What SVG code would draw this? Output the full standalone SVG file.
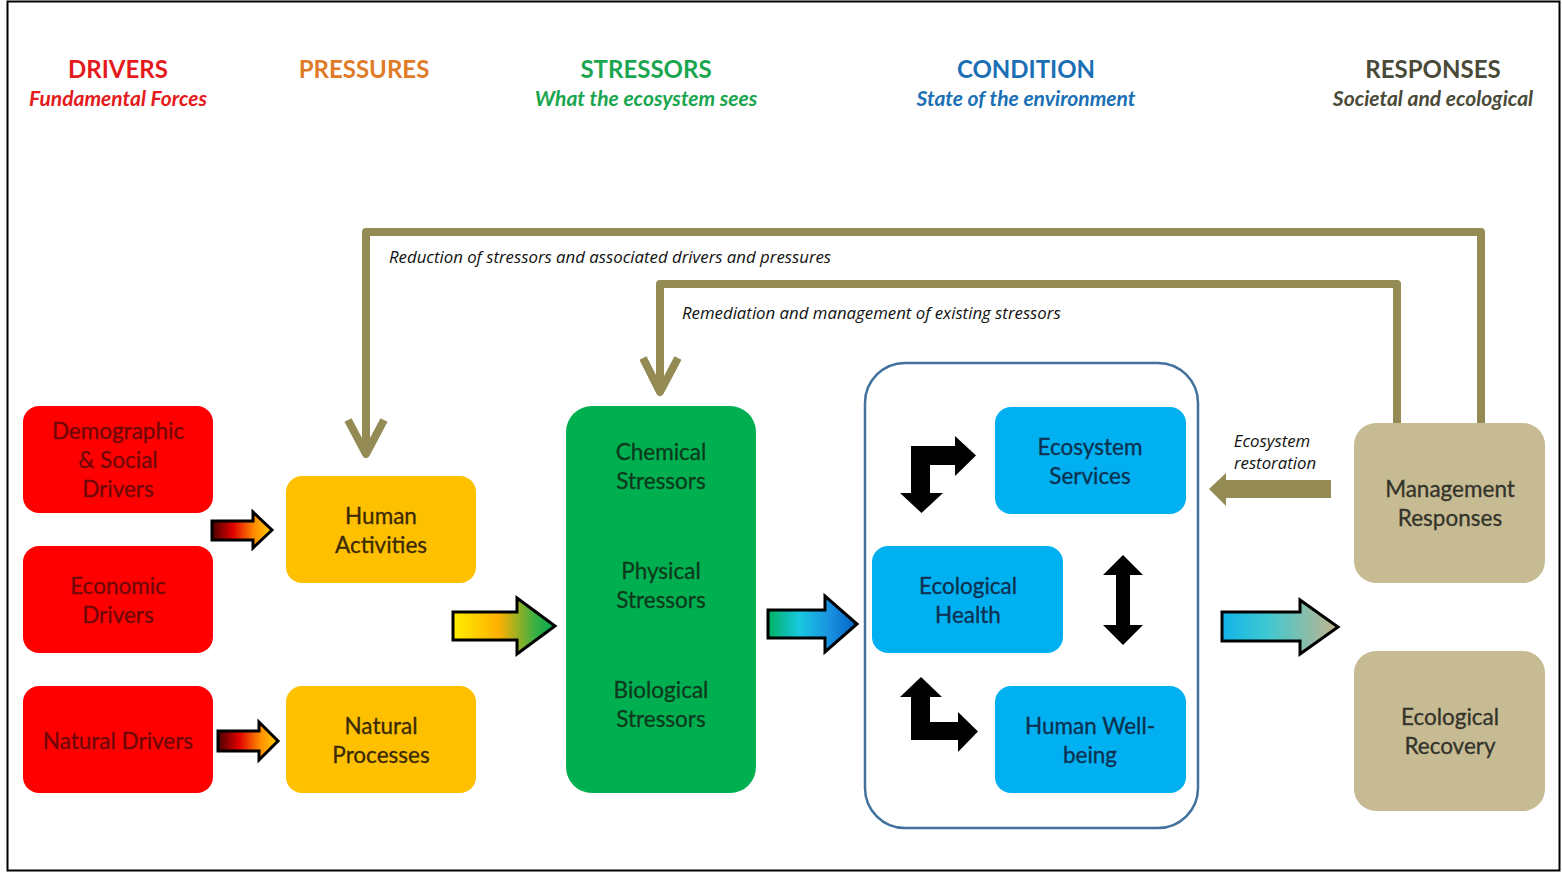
<svg xmlns="http://www.w3.org/2000/svg" width="1562" height="873" viewBox="0 0 1562 873">
<defs>
<linearGradient id="gRed" x1="0" y1="0" x2="1" y2="0">
<stop offset="0" stop-color="#4a0000"/><stop offset="0.35" stop-color="#e00000"/><stop offset="0.7" stop-color="#ff8c00"/><stop offset="1" stop-color="#ffd000"/>
</linearGradient>
<linearGradient id="gYG" x1="0" y1="0" x2="1" y2="0">
<stop offset="0" stop-color="#ffee00"/><stop offset="0.45" stop-color="#ffb000"/><stop offset="0.8" stop-color="#3cb043"/><stop offset="1" stop-color="#00a84f"/>
</linearGradient>
<linearGradient id="gGB" x1="0" y1="0" x2="1" y2="0">
<stop offset="0" stop-color="#00b060"/><stop offset="0.35" stop-color="#18c8e0"/><stop offset="0.7" stop-color="#1a90e0"/><stop offset="1" stop-color="#0060c0"/>
</linearGradient>
<linearGradient id="gBT" x1="0" y1="0" x2="1" y2="0">
<stop offset="0" stop-color="#10b4e8"/><stop offset="0.4" stop-color="#40c8d0"/><stop offset="1" stop-color="#c4b48c"/>
</linearGradient>
</defs>
<style>
.hd{font-family:Lato,"Open Sans",sans-serif;font-weight:bold;font-size:24px;text-anchor:middle}
.sub{font-family:Lato,"Open Sans",sans-serif;font-weight:bold;font-style:italic;font-size:21px;text-anchor:middle}
.bt{font-family:Lato,"Open Sans",sans-serif;font-size:22.5px;text-anchor:middle;stroke-width:0.3}
.lbl{font-family:"Open Sans",Lato,sans-serif;font-style:italic;font-size:16.8px;fill:#111}
.red{fill:#ff0000}
.org{fill:#ffc000}
.grn{fill:#00b050}
.blu{fill:#00b0f0}
.tan{fill:#c7bb94}
.fb{fill:none;stroke:#948a54;stroke-width:8;stroke-linejoin:round}
.blk{fill:#000}
.ga{stroke:#000;stroke-width:3;stroke-linejoin:miter}
</style>
<rect x="7.5" y="1.5" width="1552" height="869" fill="#fff" stroke="#000" stroke-width="2"/>

<g id="headers">
<text class="hd" x="118" y="78" fill="#e41a1c">DRIVERS</text>
<text class="sub" x="118" y="106" fill="#e41a1c">Fundamental Forces</text>
<text class="hd" x="364" y="78" fill="#e07b27">PRESSURES</text>
<text class="hd" x="646" y="78" fill="#1aa64f">STRESSORS</text>
<text class="sub" x="646" y="106" fill="#1aa64f">What the ecosystem sees</text>
<text class="hd" x="1026" y="78" fill="#1a6fb5">CONDITION</text>
<text class="sub" x="1026" y="106" fill="#1a6fb5">State of the environment</text>
<text class="hd" x="1433" y="78" fill="#4a4a38">RESPONSES</text>
<text class="sub" x="1433" y="106" fill="#4a4a38">Societal and ecological</text>
</g>

<g id="connectors">
<path class="fb" d="M1481,428 V232 H366 V452"/>
<path class="fb" d="M348,420 L366,454 L384,420"/>
<path class="fb" d="M1397,428 V284 H660 V390"/>
<path class="fb" d="M643,358 L660,392 L678,358"/>
<text class="lbl" x="389" y="263">Reduction of stressors and associated drivers and pressures</text>
<text class="lbl" x="682" y="319">Remediation and management of existing stressors</text>
<path d="M1331,480 H1226 V473 L1209,489 L1226,506 V498 H1331 Z" fill="#948a54"/>
<text class="lbl" x="1272" y="447" text-anchor="middle">Ecosystem</text>
<text class="lbl" x="1275" y="469" text-anchor="middle">restoration</text>
<path class="ga" fill="url(#gRed)" d="M212,521 H253 V512 L272,530 L253,548 V540 H212 Z"/>
<path class="ga" fill="url(#gRed)" d="M218,731 H259 V722 L278,741 L259,760 V751 H218 Z"/>
<path class="ga" fill="url(#gYG)" d="M453,612 H517 V598 L555,626 L517,654 V640 H453 Z"/>
<path class="ga" fill="url(#gGB)" d="M768,610 H825 V596 L857,624 L825,652 V638 H768 Z"/>
<path class="ga" fill="url(#gBT)" d="M1222,612 H1300 V600 L1338,627 L1300,654 V641 H1222 Z"/>
<path class="blk" d="M911,446 L955,446 L955,436 L976,455.5 L955,476 L955,465 L930,465 L930,493 L943,493 L921.5,513 L900,493 L911,493 Z"/>
<path class="blk" d="M1123,555 L1143,575 L1130,575 L1130,625 L1143,625 L1123,645 L1103,625 L1116,625 L1116,575 L1103,575 Z"/>
<path class="blk" d="M921,677 L942,697 L930,697 L930,722 L958,722 L958,712 L978,731.5 L958,752 L958,740 L911,740 L911,697 L900,697 Z"/>
</g>

<g id="demographic">
<rect class="red" x="23" y="406" width="190" height="107" rx="16"/>
<text class="bt" fill="#6e0808" stroke="#6e0808"><tspan x="118" y="439">Demographic</tspan><tspan x="118" y="468">&amp; Social</tspan><tspan x="118" y="497">Drivers</tspan></text>
</g>
<g id="economic">
<rect class="red" x="23" y="546" width="190" height="107" rx="16"/>
<text class="bt" fill="#6e0808" stroke="#6e0808"><tspan x="118" y="594">Economic</tspan><tspan x="118" y="623">Drivers</tspan></text>
</g>
<g id="natural-drivers">
<rect class="red" x="23" y="686" width="190" height="107" rx="16"/>
<text class="bt" fill="#6e0808" stroke="#6e0808"><tspan x="118" y="749">Natural Drivers</tspan></text>
</g>
<g id="human-activities">
<rect class="org" x="286" y="476" width="190" height="107" rx="16"/>
<text class="bt" fill="#3a2a05" stroke="#3a2a05"><tspan x="381" y="524">Human</tspan><tspan x="381" y="553">Activities</tspan></text>
</g>
<g id="natural-processes">
<rect class="org" x="286" y="686" width="190" height="107" rx="16"/>
<text class="bt" fill="#3a2a05" stroke="#3a2a05"><tspan x="381" y="734">Natural</tspan><tspan x="381" y="763">Processes</tspan></text>
</g>
<g id="stressors">
<rect class="grn" x="566" y="406" width="190" height="387" rx="26"/>
<text class="bt" fill="#0d3a1c" stroke="#0d3a1c"><tspan x="661" y="460">Chemical</tspan><tspan x="661" y="489">Stressors</tspan><tspan x="661" y="579">Physical</tspan><tspan x="661" y="608">Stressors</tspan><tspan x="661" y="698">Biological</tspan><tspan x="661" y="727">Stressors</tspan></text>
</g>
<g id="condition">
<rect x="865" y="363" width="333" height="465" rx="40" fill="none" stroke="#41719c" stroke-width="2.5"/>
</g>
<g id="ecosystem-services">
<rect class="blu" x="995" y="407" width="191" height="107" rx="16"/>
<text class="bt" fill="#0d3050" stroke="#0d3050"><tspan x="1090" y="455">Ecosystem</tspan><tspan x="1090" y="484">Services</tspan></text>
</g>
<g id="ecological-health">
<rect class="blu" x="872" y="546" width="191" height="107" rx="16"/>
<text class="bt" fill="#0d3050" stroke="#0d3050"><tspan x="968" y="594">Ecological</tspan><tspan x="968" y="623">Health</tspan></text>
</g>
<g id="human-wellbeing">
<rect class="blu" x="995" y="686" width="191" height="107" rx="16"/>
<text class="bt" fill="#0d3050" stroke="#0d3050"><tspan x="1090" y="734">Human Well-</tspan><tspan x="1090" y="763">being</tspan></text>
</g>
<g id="management-responses">
<rect class="tan" x="1354" y="423" width="191" height="160" rx="22"/>
<text class="bt" fill="#33332a" stroke="#33332a"><tspan x="1450" y="497">Management</tspan><tspan x="1450" y="526">Responses</tspan></text>
</g>
<g id="ecological-recovery">
<rect class="tan" x="1354" y="651" width="191" height="160" rx="22"/>
<text class="bt" fill="#33332a" stroke="#33332a"><tspan x="1450" y="725">Ecological</tspan><tspan x="1450" y="754">Recovery</tspan></text>
</g>
</svg>
